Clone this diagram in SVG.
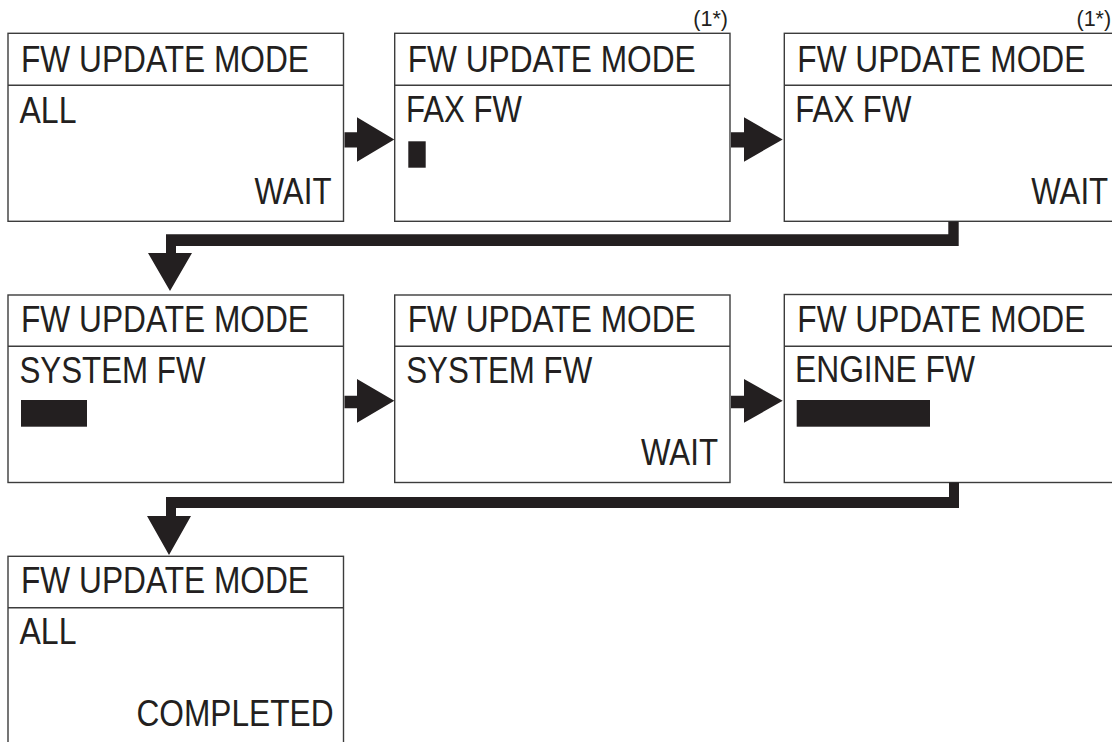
<svg xmlns="http://www.w3.org/2000/svg" width="1112" height="742" viewBox="0 0 1112 742">
<style>
.box{fill:#fff;stroke:#3c3c3c;stroke-width:1.4}
.sep{stroke:#3c3c3c;stroke-width:1.4}
.t{font-family:"Liberation Sans",Arial,sans-serif;font-size:36px;fill:#231f20}
.n{font-family:"Liberation Sans",Arial,sans-serif;font-size:21.5px;fill:#231f20}
.bar{fill:#231f20}
.arr{fill:#231f20}
</style>
<rect width="1112" height="742" fill="#fff"/>

<g id="node1">
<rect class="box" x="8" y="33.3" width="335.5" height="188"/>
<line class="sep" x1="8" y1="85.3" x2="343.5" y2="85.3"/>
<text class="t" x="21" y="71.7" textLength="288" lengthAdjust="spacingAndGlyphs">FW UPDATE MODE</text>
<text class="t" x="19.5" y="122.7" textLength="57" lengthAdjust="spacingAndGlyphs">ALL</text>
<text class="t" x="254.5" y="204" textLength="77" lengthAdjust="spacingAndGlyphs">WAIT</text>
</g>

<g id="node2">
<rect class="box" x="394.7" y="33.3" width="335.3" height="188"/>
<line class="sep" x1="394.7" y1="85.3" x2="730" y2="85.3"/>
<text class="n" x="728" y="25.5" text-anchor="end">(1*)</text>
<text class="t" x="407.7" y="71.7" textLength="288" lengthAdjust="spacingAndGlyphs">FW UPDATE MODE</text>
<text class="t" x="406" y="121.7" textLength="116" lengthAdjust="spacingAndGlyphs">FAX FW</text>
<rect class="bar" x="408.3" y="141.3" width="17.4" height="26.4"/>
</g>

<g id="node3">
<rect class="box" x="784.3" y="33.3" width="336" height="188"/>
<line class="sep" x1="784.3" y1="85.3" x2="1120.3" y2="85.3"/>
<text class="n" x="1076.5" y="25.5">(1*)</text>
<text class="t" x="797.3" y="71.7" textLength="288" lengthAdjust="spacingAndGlyphs">FW UPDATE MODE</text>
<text class="t" x="795.3" y="121.7" textLength="116" lengthAdjust="spacingAndGlyphs">FAX FW</text>
<text class="t" x="1031.2" y="204" textLength="77" lengthAdjust="spacingAndGlyphs">WAIT</text>
</g>

<g id="node4">
<rect class="box" x="8" y="295" width="335.5" height="187.5"/>
<line class="sep" x1="8" y1="346.3" x2="343.5" y2="346.3"/>
<text class="t" x="21" y="331.7" textLength="288" lengthAdjust="spacingAndGlyphs">FW UPDATE MODE</text>
<text class="t" x="19.5" y="383.3" textLength="186" lengthAdjust="spacingAndGlyphs">SYSTEM FW</text>
<rect class="bar" x="21" y="400" width="66" height="26.7"/>
</g>

<g id="node5">
<rect class="box" x="394.7" y="295" width="335.3" height="187.5"/>
<line class="sep" x1="394.7" y1="346.3" x2="730" y2="346.3"/>
<text class="t" x="407.7" y="331.7" textLength="288" lengthAdjust="spacingAndGlyphs">FW UPDATE MODE</text>
<text class="t" x="406.2" y="383.3" textLength="186" lengthAdjust="spacingAndGlyphs">SYSTEM FW</text>
<text class="t" x="641" y="465" textLength="77" lengthAdjust="spacingAndGlyphs">WAIT</text>
</g>

<g id="node6">
<rect class="box" x="784.3" y="294.5" width="336" height="188"/>
<line class="sep" x1="784.3" y1="346.3" x2="1120.3" y2="346.3"/>
<text class="t" x="797.3" y="331.7" textLength="288" lengthAdjust="spacingAndGlyphs">FW UPDATE MODE</text>
<text class="t" x="795" y="381.7" textLength="180" lengthAdjust="spacingAndGlyphs">ENGINE FW</text>
<rect class="bar" x="796.7" y="400" width="133.3" height="26.7"/>
</g>

<g id="node7">
<rect class="box" x="8" y="556.3" width="335.5" height="200"/>
<line class="sep" x1="8" y1="607.7" x2="343.5" y2="607.7"/>
<text class="t" x="21" y="593.3" textLength="288" lengthAdjust="spacingAndGlyphs">FW UPDATE MODE</text>
<text class="t" x="19.5" y="644.3" textLength="57" lengthAdjust="spacingAndGlyphs">ALL</text>
<text class="t" x="136.5" y="726" textLength="197" lengthAdjust="spacingAndGlyphs">COMPLETED</text>
</g>

<g id="connectors">
<path class="arr" d="M344.5,132.3 H357 V117.3 L394.3,139.5 L357,161.7 V147.5 H344.5 Z"/>
<path class="arr" d="M731,132.3 H744 V117.3 L782.7,139.5 L744,161.7 V147.5 H731 Z"/>
<path class="arr" d="M344.5,395.7 H357 V379 L394.3,400.8 L357,422.7 V408.3 H344.5 Z"/>
<path class="arr" d="M731,395.7 H744 V379 L782.7,400.8 L744,422.7 V408.3 H731 Z"/>
<path class="arr" d="M958.7,221.5 V246 H176 V253 H192 L170,291 L148,253 H166 V234.3 H948.3 V221.5 Z"/>
<path class="arr" d="M959,482.5 V508 H176 V516 H191 L169,555 L147,516 H166 V497 H949 V482.5 Z"/>
</g>
</svg>
